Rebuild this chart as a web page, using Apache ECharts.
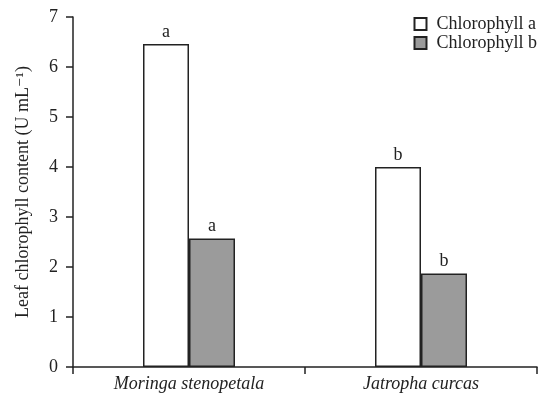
<!DOCTYPE html>
<html>
<head>
<meta charset="utf-8">
<script src="https://cdn.jsdelivr.net/npm/echarts@6/dist/echarts.min.js"></script>
<style>html,body{margin:0;padding:0;background:#fff}#c{width:539px;height:396px}</style>
</head>
<body>
<div id="c"></div>
<script>
var categories = ['Moringa stenopetala', 'Jatropha curcas'];
var chlA = [6.46, 4.0];
var chlB = [2.57, 1.87];
var labelsA = ['a', 'b'];
var labelsB = ['a', 'b'];
var yTicks = [0, 1, 2, 3, 4, 5, 6, 7];

var FONT = '"Liberation Serif", "DejaVu Serif", serif';
var chart = echarts.init(document.getElementById('c'), null, {renderer: 'canvas'});
function lbl(arr) {
  return {show: true, position: 'top', distance: 3, fontFamily: FONT, fontSize: 18, color: '#222',
    formatter: function (p) { return arr[p.dataIndex]; }};
}
chart.setOption({
  animation: false,
  backgroundColor: '#fff',
  grid: {left: 73, right: 2, top: 17, bottom: 29},
  legend: {
    right: 2, top: 15, orient: 'vertical', itemWidth: 12, itemHeight: 12, itemGap: 1,
    padding: 0,
    icon: 'rect',
    textStyle: {fontFamily: FONT, fontSize: 18, color: '#222', lineHeight: 18, padding: [0, 0, 0, 5]},
    data: ['Chlorophyll a', 'Chlorophyll b']
  },
  xAxis: {
    type: 'category', data: categories,
    axisLine: {lineStyle: {color: '#222', width: 1.5}},
    axisTick: {show: true, length: 7, lineStyle: {color: '#222', width: 1.5}},
    axisLabel: {fontFamily: FONT, fontSize: 18, fontStyle: 'italic', color: '#222', margin: 8}
  },
  yAxis: {
    type: 'value', min: yTicks[0], max: yTicks[yTicks.length - 1], interval: 1,
    name: 'Leaf chlorophyll content (U mL\u207B\u00B9)',
    nameLocation: 'middle', nameGap: 41, nameRotate: 90,
    nameTextStyle: {fontFamily: FONT, fontSize: 18, color: '#222'},
    axisLine: {show: true, lineStyle: {color: '#222', width: 1.5}},
    axisTick: {show: true, length: 7, lineStyle: {color: '#222', width: 1.5}},
    splitLine: {show: false},
    axisLabel: {fontFamily: FONT, fontSize: 18, color: '#222', margin: 15}
  },
  series: [
    {name: 'Chlorophyll a', type: 'bar', data: chlA, barWidth: 46, barGap: '0%',
      itemStyle: {color: '#fff', borderColor: '#222', borderWidth: 1.5}, label: lbl(labelsA)},
    {name: 'Chlorophyll b', type: 'bar', data: chlB, barWidth: 46, barGap: '0%',
      itemStyle: {color: '#9b9b9b', borderColor: '#222', borderWidth: 1.5}, label: lbl(labelsB)}
  ]
});
</script>
</body>
</html>
